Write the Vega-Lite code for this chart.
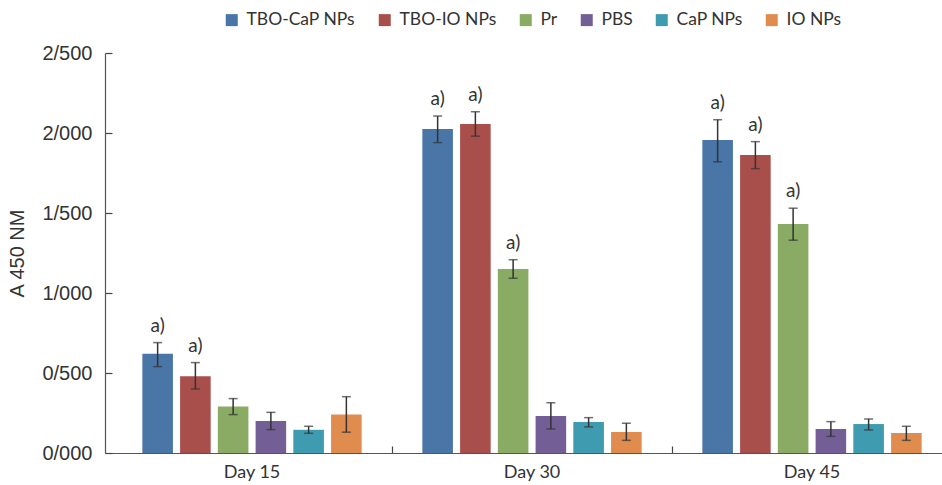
{
  "$schema": "https://vega.github.io/schema/vega-lite/v6.json",
  "width": 837,
  "height": 400,
  "autosize": "none",
  "padding": {"left": 105, "top": 53, "right": 0, "bottom": 32},
  "background": "white",
  "config": {"view": {"stroke": null}, "font": "Lato"},
  "data": {
    "values": [
      {"day": "Day 15", "group": "TBO-CaP NPs", "value": 0.62, "lo": 0.54, "hi": 0.69, "sig": "a)"},
      {"day": "Day 15", "group": "TBO-IO NPs", "value": 0.48, "lo": 0.40, "hi": 0.565, "sig": "a)"},
      {"day": "Day 15", "group": "Pr", "value": 0.29, "lo": 0.24, "hi": 0.34, "sig": ""},
      {"day": "Day 15", "group": "PBS", "value": 0.20, "lo": 0.146, "hi": 0.254, "sig": ""},
      {"day": "Day 15", "group": "CaP NPs", "value": 0.145, "lo": 0.123, "hi": 0.167, "sig": ""},
      {"day": "Day 15", "group": "IO NPs", "value": 0.24, "lo": 0.13, "hi": 0.352, "sig": ""},
      {"day": "Day 30", "group": "TBO-CaP NPs", "value": 2.025, "lo": 1.94, "hi": 2.106, "sig": "a)"},
      {"day": "Day 30", "group": "TBO-IO NPs", "value": 2.056, "lo": 1.98, "hi": 2.133, "sig": "a)"},
      {"day": "Day 30", "group": "Pr", "value": 1.15, "lo": 1.092, "hi": 1.208, "sig": "a)"},
      {"day": "Day 30", "group": "PBS", "value": 0.231, "lo": 0.15, "hi": 0.314, "sig": ""},
      {"day": "Day 30", "group": "CaP NPs", "value": 0.194, "lo": 0.163, "hi": 0.221, "sig": ""},
      {"day": "Day 30", "group": "IO NPs", "value": 0.131, "lo": 0.079, "hi": 0.186, "sig": ""},
      {"day": "Day 45", "group": "TBO-CaP NPs", "value": 1.956, "lo": 1.82, "hi": 2.083, "sig": "a)"},
      {"day": "Day 45", "group": "TBO-IO NPs", "value": 1.8625, "lo": 1.777, "hi": 1.946, "sig": "a)"},
      {"day": "Day 45", "group": "Pr", "value": 1.431, "lo": 1.33, "hi": 1.53, "sig": "a)"},
      {"day": "Day 45", "group": "PBS", "value": 0.15, "lo": 0.104, "hi": 0.196, "sig": ""},
      {"day": "Day 45", "group": "CaP NPs", "value": 0.181, "lo": 0.144, "hi": 0.2125, "sig": ""},
      {"day": "Day 45", "group": "IO NPs", "value": 0.125, "lo": 0.079, "hi": 0.167, "sig": ""}
    ]
  },
  "encoding": {
    "x": {
      "field": "day", "type": "nominal", "sort": ["Day 15", "Day 30", "Day 45"],
      "scale": {"range": [0, 847], "paddingInner": 0, "paddingOuter": 0.0125, "align": 1},
      "axis": {
        "title": null, "labelAngle": 0, "bandPosition": 0,
        "labelFont": "Lato", "labelFontSize": 18, "labelColor": "#333", "labelPadding": 17,
        "domainColor": "#555", "domainWidth": 1.2, "tickColor": "#444", "tickSize": -7, "tickWidth": 1.2,
        "tickOpacity": {"condition": {"test": "datum.value === 'Day 15'", "value": 0}, "value": 1}
      }
    },
    "xOffset": {
      "field": "group", "type": "nominal",
      "sort": ["TBO-CaP NPs", "TBO-IO NPs", "Pr", "PBS", "CaP NPs", "IO NPs"],
      "scale": {"paddingInner": 0.19, "paddingOuter": 0.804}
    }
  },
  "layer": [
    {
      "mark": {"type": "bar"},
      "encoding": {
        "y": {
          "field": "value", "type": "quantitative",
          "scale": {"domain": [0, 2.5], "nice": false},
          "axis": {
            "values": [0, 0.5, 1, 1.5, 2, 2.5],
            "labelExpr": "replace(format(datum.value, '.3f'), '.', '/')",
            "title": "A 450 NM", "titleFont": "Liberation Sans", "titleFontSize": 20,
            "titleFontWeight": "normal", "titleColor": "#333", "titlePadding": 14,
            "labelFont": "Liberation Sans", "labelFontSize": 20, "labelColor": "#333", "labelPadding": 20,
            "grid": false, "domainColor": "#555", "domainWidth": 1.2,
            "tickColor": "#444", "tickSize": -7, "tickWidth": 1.2
          }
        },
        "color": {
          "field": "group", "type": "nominal",
          "sort": ["TBO-CaP NPs", "TBO-IO NPs", "Pr", "PBS", "CaP NPs", "IO NPs"],
          "scale": {
            "domain": ["TBO-CaP NPs", "TBO-IO NPs", "Pr", "PBS", "CaP NPs", "IO NPs"],
            "range": ["#4a76a7", "#a84f4c", "#89ab63", "#735f95", "#3f9baf", "#e08c4f"]
          },
          "legend": {
            "title": null, "orient": "none", "legendX": 118, "legendY": -42,
            "direction": "horizontal", "columns": 6,
            "symbolType": "square", "symbolSize": 144, "symbolStrokeWidth": 0,
            "labelFont": "Lato", "labelFontSize": 17.5, "labelColor": "#333",
            "labelOffset": 6, "columnPadding": 20
          }
        }
      }
    },
    {
      "mark": {"type": "rule", "color": "#333", "strokeWidth": 1.5},
      "encoding": {
        "y": {"field": "lo", "type": "quantitative"},
        "y2": {"field": "hi"}
      }
    },
    {
      "mark": {"type": "tick", "color": "#333", "size": 9, "thickness": 1.5},
      "encoding": {"y": {"field": "lo", "type": "quantitative"}}
    },
    {
      "mark": {"type": "tick", "color": "#333", "size": 9, "thickness": 1.5},
      "encoding": {"y": {"field": "hi", "type": "quantitative"}}
    },
    {
      "transform": [{"filter": "datum.sig !== ''"}],
      "mark": {"type": "text", "font": "Lato", "fontSize": 19, "color": "#333", "baseline": "alphabetic", "dy": -11},
      "encoding": {
        "y": {"field": "hi", "type": "quantitative"},
        "text": {"field": "sig"}
      }
    }
  ]
}
